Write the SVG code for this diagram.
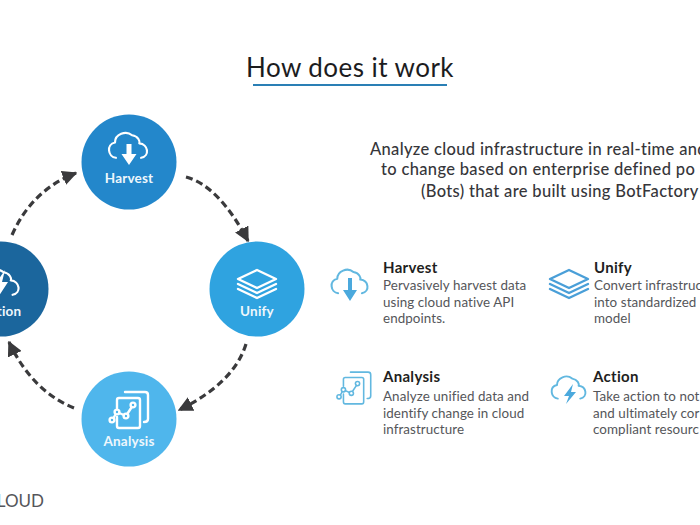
<svg xmlns="http://www.w3.org/2000/svg" width="700" height="525" viewBox="0 0 700 525">
  <style>
    text { font-family: "Lato", "Liberation Sans", sans-serif; }
    .title { font-size: 26px; fill: #1c1c1e; letter-spacing: .45px; }
    .lead { font-size: 16.5px; font-weight: 500; fill: #36363a; letter-spacing: .33px; }
    .head { font-size: 15px; font-weight: 700; fill: #1f1f22; letter-spacing: .3px; }
    .body { font-size: 13.4px; fill: #55565a; letter-spacing: .08px; }
    .cap { font-size: 13.5px; font-weight: 700; fill: #eef7fc; text-anchor: middle; letter-spacing: .2px; }
    .flow { fill: none; stroke: #3a3a3c; stroke-width: 3.2; stroke-dasharray: 7 4; }
    .wl { fill: none; stroke: #fff; stroke-width: 2.4; stroke-linecap: round; stroke-linejoin: round; }
    .bl { fill: none; stroke: #62b8e0; stroke-width: 2.4; stroke-linecap: round; stroke-linejoin: round; }
    .bf { fill: #4ba9dd; }
  </style>
  <defs>
    <marker id="tip" viewBox="0 0 10 10" refX="9" refY="5" markerWidth="15" markerHeight="15" markerUnits="userSpaceOnUse" orient="auto">
      <path d="M0 0L10 5L0 10z" fill="#3a3a3c"/>
    </marker>
    <path id="cloud" d="M-14 12C-23 11-25 -3-15 -5C-15 -14-3 -19 4 -13C11 -12 13 -6 12 -4C22 -3 24 10 14 12"/>
    <g id="stack">
      <path d="M0 -13L19 -4L0 5L-19 -4z"/>
      <path d="M-19 1L0 10L19 1M-19 6L0 15L19 6"/>
    </g>
    <g id="pages">
      <path d="M-4 -18H16Q19 -18 19 -15V9Q19 12 15 12"/>
      <path d="M-12 -2V-10Q-12 -12 -10 -12H9Q11 -12 11 -10V16Q11 18 9 18H-10Q-12 18 -12 16V7"/>
      <path d="M-15.500 8L-13.500 4.500M-9.800 3L-5.200 5M-1.800 4L2.800 -3"/>
      <circle cx="-17" cy="10" r="2.400"/><circle cx="-12" cy="2" r="2.400"/><circle cx="-3" cy="6" r="2.400"/><circle cx="4" cy="-5" r="2.400"/>
    </g>
  </defs>
  <rect width="700" height="525" fill="#fff"/>

  <g id="title">
    <text class="title" x="246" y="77">How does it work</text>
    <rect x="253" y="84" width="194" height="2" fill="#2a7fb5"/>
  </g>

  <g id="intro">
    <text class="lead" x="370" y="155">Analyze cloud infrastructure in real-time and</text>
    <text class="lead" x="381" y="175">to change based on enterprise defined po</text>
    <text class="lead" x="421" y="197">(Bots) that are built using BotFactory</text>
  </g>

  <g id="connectors">
    <path class="flow" d="M186 177Q219 186 248 241" marker-end="url(#tip)"/>
    <path class="flow" d="M246 344Q234 383 179 410" marker-end="url(#tip)"/>
    <path class="flow" d="M74 408Q32 391 9 342" marker-end="url(#tip)"/>
    <path class="flow" d="M12 235Q32 190 76 173" marker-end="url(#tip)"/>
  </g>

  <g id="harvest">
    <circle cx="129" cy="162" r="47.500" fill="#2387cb"/>
    <use href="#cloud" transform="translate(128.500 147) scale(.9)" class="wl"/>
    <path d="M126.500 144H131.500V154H136.500L129 165L121.500 154H126.500z" fill="#fff"/>
    <text class="cap" x="129" y="183">Harvest</text>
  </g>

  <g id="unify">
    <circle cx="257" cy="289" r="47.500" fill="#2fa3e0"/>
    <use href="#stack" x="257" y="283" class="wl"/>
    <text class="cap" x="257" y="316">Unify</text>
  </g>

  <g id="analysis">
    <circle cx="129" cy="419" r="47.500" fill="#4fb6ec"/>
    <use href="#pages" x="129" y="410" class="wl"/>
    <text class="cap" x="129" y="446">Analysis</text>
  </g>

  <g id="action">
    <circle cx="1" cy="289" r="47.500" fill="#1b669d"/>
    <use href="#cloud" transform="translate(0 284) scale(.9)" class="wl"/>
    <path d="M5 270L-6 286H0L-3 299L8 282H2z" fill="#fff"/>
    <text class="cap" x="1" y="316">Action</text>
  </g>

  <g id="item-harvest">
    <use href="#cloud" transform="translate(350 283) scale(.85)" class="bl"/>
    <path d="M348 278H352V290H357L350 301L343 290H348z" class="bf"/>
    <text class="head" x="383" y="273">Harvest</text>
    <text class="body" x="383" y="290">Pervasively harvest data</text>
    <text class="body" x="383" y="307">using cloud native API</text>
    <text class="body" x="383" y="323">endpoints.</text>
  </g>

  <g id="item-unify">
    <use href="#stack" x="569" y="283" class="bl" style="stroke:#4a9fd8"/>
    <text class="head" x="594" y="273">Unify</text>
    <text class="body" x="594" y="290">Convert infrastruc</text>
    <text class="body" x="594" y="307">into standardized</text>
    <text class="body" x="594" y="323">model</text>
  </g>

  <g id="item-analysis">
    <use href="#pages" transform="translate(354 388) scale(.88)" class="bl" style="stroke-width:1.800"/>
    <text class="head" x="383" y="382">Analysis</text>
    <text class="body" x="383" y="401">Analyze unified data and</text>
    <text class="body" x="383" y="418">identify change in cloud</text>
    <text class="body" x="383" y="434">infrastructure</text>
  </g>

  <g id="item-action">
    <use href="#cloud" transform="translate(569 389) scale(.8)" class="bl"/>
    <path d="M573 384L564 396H569L566 404L576 392H571z" class="bf"/>
    <text class="head" x="593" y="382">Action</text>
    <text class="body" x="593" y="401">Take action to not</text>
    <text class="body" x="593" y="418">and ultimately cor</text>
    <text class="body" x="593" y="434">compliant resourc</text>
  </g>

  <text id="brand" x="44" y="507" font-size="17" fill="#55565a" text-anchor="end">CLOUD</text>
</svg>
